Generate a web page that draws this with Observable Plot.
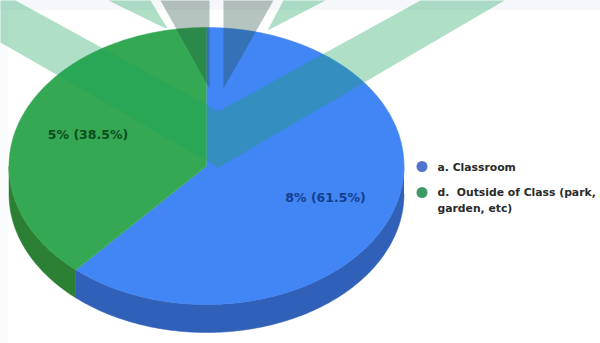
<!DOCTYPE html>
<html>
<head>
<meta charset="utf-8">
<script src="https://cdn.jsdelivr.net/npm/d3@7"></script>
<script src="https://cdn.jsdelivr.net/npm/@observablehq/plot@0.6"></script>
<style>
  html, body { margin: 0; padding: 0; background: #fff; }
  svg { display: block; }
</style>
</head>
<body>
<div id="chart"></div>
<script>
// Answer shares, clockwise from twelve o'clock
const categories = ["a. Classroom", "d.  Outside of Class (park,\ngarden, etc)"];
const shares = [61.5, 38.5];
const sliceLabels = ["8% (61.5%)", "5% (38.5%)"];
const topColors = ["#4285f4", "#34a853"];
const sideColors = ["#3060b8", "#2b8033"];
const legendDotColors = ["#4f75cf", "#3d9a63"];
const labelColors = ["#123f8f", "#0c4d1e"];

// Pie geometry, in page pixels
const pie = {cx: 206, cy: 165.5, rx: 197.5, ry: 138.5, depth: 28};

const toRad = d => d * Math.PI / 180;
const rim = (deg, drop = 0) => ({
  x: pie.cx + pie.rx * Math.sin(toRad(deg)),
  y: pie.cy - pie.ry * Math.cos(toRad(deg)) + drop
});
const sweep = (a, b) => d3.range(a, b, 1).concat(b);

// Start and end angle of each slice, accumulated from the shares
let running = 0;
const slices = shares.map((s, i) => {
  const a0 = running * 3.6;
  running += s;
  return {i, a0, a1: running * 3.6};
});

const faces = slices.flatMap(({i, a0, a1}) =>
  [{x: pie.cx, y: pie.cy}, ...sweep(a0, a1).map(d => rim(d))].map(p => ({...p, i})));

// Visible wall: only the lower half of the rim, from 90° to 270°
const walls = slices.flatMap(({i, a0, a1}) => {
  const from = Math.max(a0, 90), to = Math.min(a1, 270);
  if (from >= to) return [];
  const range = sweep(from, to);
  return [...range.map(d => rim(d)), ...range.slice().reverse().map(d => rim(d, pie.depth))]
    .map(p => ({...p, i}));
});

// Pale ribbons laid across the pie
const ribbonV = [[15,0],[218,111],[420,0],[504,0],[218,167],[0,42],[0,0]];
const outerLeft = [[108,0],[150,0],[167,28],[163,27]];
const outerRight = [[283,0],[325,0],[267,30]];
const wedgeLeft = [[160,0],[209,0],[209,88]];
const wedgeRight = [[223,0],[273,0],[223,88]];
const poly = pts => pts.map(([x, y]) => ({x, y}));

const legendRows = [
  {dotY: 166, textY: 165},
  {dotY: 192, textY: 198.5}
];

const chart = Plot.plot({
  width: 600,
  height: 343,
  margin: 0,
  style: {background: "#fff"},
  x: {domain: [0, 600], range: [0, 600], axis: null},
  y: {domain: [0, 343], range: [0, 343], axis: null},
  marks: [
    // Faint page border
    Plot.rect([{}], {x1: 0, x2: 600, y1: 0, y2: 10, fill: "#f6f7fa"}),
    Plot.rect([{}], {x1: 0, x2: 8, y1: 10, y2: 343, fill: "#fafbfd"}),
    Plot.line(poly(outerLeft), {x: "x", y: "y", fill: "#1aa35f", fillOpacity: 0.35, stroke: "none"}),
    Plot.line(poly(outerRight), {x: "x", y: "y", fill: "#1aa35f", fillOpacity: 0.35, stroke: "none"}),
    // Pie wall, then the top face
    ...slices.map(({i}) => Plot.line(walls.filter(d => d.i === i), {
      x: "x", y: "y", fill: sideColors[i], stroke: sideColors[i], strokeWidth: 0.5
    })),
    ...slices.map(({i}) => Plot.line(faces.filter(d => d.i === i), {
      x: "x", y: "y", fill: topColors[i], stroke: topColors[i], strokeWidth: 0.5
    })),
    // Ribbons over the pie
    Plot.line(poly(ribbonV), {x: "x", y: "y", fill: "#1aa35f", fillOpacity: 0.35, stroke: "none"}),
    Plot.line(poly(wedgeLeft), {x: "x", y: "y", fill: "#194835", fillOpacity: 0.32, stroke: "none"}),
    Plot.line(poly(wedgeRight), {x: "x", y: "y", fill: "#194835", fillOpacity: 0.32, stroke: "none"}),
    // Slice labels
    Plot.text(sliceLabels, {
      x: [325, 87.5], y: [197, 134], text: d => d,
      fill: (d, i) => labelColors[i],
      fontSize: 12.5, fontWeight: "bold", fontFamily: "DejaVu Sans"
    }),
    // Legend
    Plot.dot(categories, {
      x: () => 421.5, y: (d, i) => legendRows[i].dotY, r: 5.5,
      fill: (d, i) => legendDotColors[i]
    }),
    Plot.text(categories, {
      x: () => 437, y: (d, i) => legendRows[i].textY, text: d => d,
      textAnchor: "start", lineHeight: 1.48, fill: "#2a2a2a",
      fontSize: 10.8, fontWeight: "bold", fontFamily: "DejaVu Sans"
    })
  ]
});

document.getElementById("chart").append(chart);
</script>
</body>
</html>
